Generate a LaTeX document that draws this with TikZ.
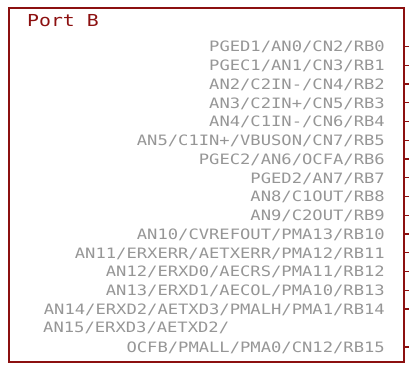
\documentclass[tikz,border=0pt]{standalone}
\usepackage{fontspec}
\newfontfamily\pinfont[FakeStretch=1.2]{DejaVu Sans Mono}
\definecolor{schred}{RGB}{140,16,16}
\definecolor{pingray}{RGB}{150,150,150}
\tikzset{
  pinlabel/.style={anchor=base east,inner sep=0pt,text=pingray,font=\pinfont\fontsize{14.3}{16}\selectfont},
  pinstub/.style={draw=schred,line width=1.2pt}
}

\begin{document}
\begin{tikzpicture}[x=1pt,y=-1pt]
        \useasboundingbox (0,0) rectangle (409,368);
        \begin{scope}
          \draw[schred,line width=1.6pt] (9,8) rectangle (404,362);
          \node[anchor=base west,inner sep=0pt,text=schred,font=\pinfont\fontsize{16.5}{18}\selectfont] (title) at (27,26) {Port B};

          \node[pinlabel] (rb0) at (385,51.7) {PGED1/AN0/CN2/RB0};
          \node[pinlabel] (rb1) at (385,70.5) {PGEC1/AN1/CN3/RB1};
          \node[pinlabel] (rb2) at (385,89.2) {AN2/C2IN-/CN4/RB2};
          \node[pinlabel] (rb3) at (385,108.0) {AN3/C2IN+/CN5/RB3};
          \node[pinlabel] (rb4) at (385,126.7) {AN4/C1IN-/CN6/RB4};
          \node[pinlabel] (rb5) at (385,145.5) {AN5/C1IN+/VBUSON/CN7/RB5};
          \node[pinlabel] (rb6) at (385,164.2) {PGEC2/AN6/OCFA/RB6};
          \node[pinlabel] (rb7) at (385,183.0) {PGED2/AN7/RB7};
          \node[pinlabel] (rb8) at (385,201.7) {AN8/C1OUT/RB8};
          \node[pinlabel] (rb9) at (385,220.5) {AN9/C2OUT/RB9};
          \node[pinlabel] (rb10) at (385,239.2) {AN10/CVREFOUT/PMA13/RB10};
          \node[pinlabel] (rb11) at (385,258.0) {AN11/ERXERR/AETXERR/PMA12/RB11};
          \node[pinlabel] (rb12) at (385,276.7) {AN12/ERXD0/AECRS/PMA11/RB12};
          \node[pinlabel] (rb13) at (385,295.5) {AN13/ERXD1/AECOL/PMA10/RB13};
          \node[pinlabel] (rb14) at (385,314.2) {AN14/ERXD2/AETXD3/PMALH/PMA1/RB14};
          \node[pinlabel,anchor=base west] (rb15a) at (43,332.2) {AN15/ERXD3/AETXD2/};
          \node[pinlabel] (rb15) at (385,352.2) {OCFB/PMALL/PMA0/CN12/RB15};

          % pin stubs leaving the box on the right
          \foreach \pin in {rb0,rb1,rb2,rb3,rb4,rb5,rb6,rb7,rb8,rb9,rb10,rb11,rb12,rb13,rb14,rb15}{
            \coordinate (\pin in) at ([yshift=5.2pt]\pin.base east -| 404,0);
            \coordinate (\pin out) at ([yshift=5.2pt]\pin.base east -| 409,0);
            \draw[pinstub] (\pin in) -- (\pin out);
          }
        \end{scope}
      \end{tikzpicture}
\end{document}
